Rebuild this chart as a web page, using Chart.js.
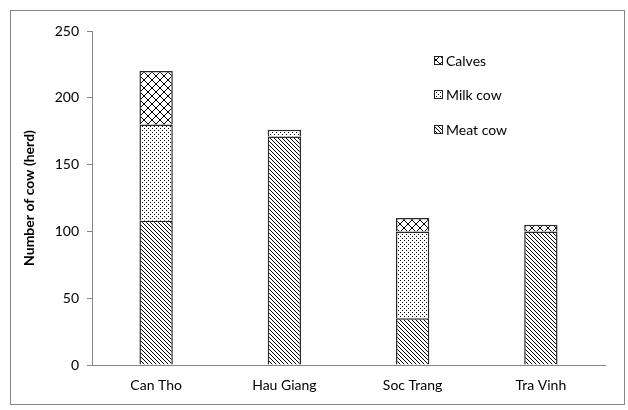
<!DOCTYPE html>
<html>
<head>
<meta charset="utf-8">
<script src="https://cdn.jsdelivr.net/npm/chart.js@4.4.0/dist/chart.umd.min.js"></script>
<style>
  html, body { margin: 0; padding: 0; background: #fff; }
  #wrap { width: 628px; height: 410px; }
</style>
</head>
<body>
<div id="wrap"><canvas id="grafico" width="628" height="410"></canvas></div>
<script>
// dados
const categorias = ["Can Tho", "Hau Giang", "Soc Trang", "Tra Vinh"];
const meatCow = [108, 171, 35, 100];
const milkCow = [72, 5, 65, 0];
const calves = [40, 0, 10, 5];
const yTicks = [0, 50, 100, 150, 200, 250];

// padrões de preenchimento (hachuras)
function criarPadrao(tam, desenha) {
  const c = document.createElement("canvas");
  c.width = tam;
  c.height = tam;
  const g = c.getContext("2d");
  g.fillStyle = "#fff";
  g.fillRect(0, 0, tam, tam);
  g.fillStyle = "#000";
  desenha(g, tam);
  return g.createPattern(c, "repeat");
}

const ctx = document.getElementById("grafico").getContext("2d");

const padraoMeat = criarPadrao(4, (g, t) => {
  for (let i = 0; i < t; i++) g.fillRect(i, i, 1, 1);
});
const padraoMilk = criarPadrao(4, (g) => {
  g.fillRect(0, 0, 1, 1);
  g.fillRect(2, 2, 1, 1);
});
const padraoCalves = criarPadrao(8, (g, t) => {
  for (let i = 0; i < t; i++) {
    g.fillRect(i, i, 1, 1);
    g.fillRect(t - 1 - i, i, 1, 1);
  }
});

const corEixo = "#868686";
const fonte = "Lato";

// borda externa + legenda dentro da área
const extras = {
  id: "extras",
  afterDraw(chart) {
    const c = chart.ctx;
    c.save();
    c.strokeStyle = corEixo;
    c.lineWidth = 1;
    c.strokeRect(10.5, 10.5, 614, 394);

    const itens = [
      ["Calves", padraoCalves, 61],
      ["Milk cow", padraoMilk, 95],
      ["Meat cow", padraoMeat, 130],
    ];
    c.font = "14px " + fonte;
    c.textBaseline = "middle";
    itens.forEach(([txt, pad, y]) => {
      c.fillStyle = pad;
      c.fillRect(434, y - 5, 9, 9);
      c.strokeStyle = "#222";
      c.strokeRect(434.5, y - 4.5, 8, 8);
      c.fillStyle = "#000";
      c.fillText(txt, 446, y);
    });
    c.restore();
  },
};

new Chart(ctx, {
  type: "bar",
  data: {
    labels: categorias,
    datasets: [
      { label: "Meat cow", data: meatCow, backgroundColor: padraoMeat },
      { label: "Milk cow", data: milkCow, backgroundColor: padraoMilk },
      { label: "Calves", data: calves, backgroundColor: padraoCalves },
    ].map((d) => ({
      ...d,
      borderColor: "#2a2a2a",
      borderWidth: 1.5,
      barPercentage: 0.26,
      categoryPercentage: 1,
    })),
  },
  options: {
    responsive: false,
    animation: false,
    layout: { padding: { left: 12, top: 31, right: 23, bottom: 0 } },
    plugins: {
      legend: { display: false },
      tooltip: { enabled: false },
    },
    scales: {
      x: {
        stacked: true,
        grid: { drawOnChartArea: false, drawTicks: false },
        border: { color: corEixo },
        ticks: { color: "#000", padding: 12, font: { family: fonte, size: 14 } },
        afterFit: (s) => { s.height = 45; },
      },
      y: {
        stacked: true,
        min: 0,
        max: 250,
        afterBuildTicks: (s) => { s.ticks = yTicks.map((v) => ({ value: v })); },
        grid: { drawOnChartArea: false, drawTicks: true, tickLength: 5, color: corEixo },
        border: { color: corEixo },
        ticks: { color: "#000", padding: 8, font: { family: fonte, size: 14 } },
        title: {
          display: true,
          text: "Number of cow (herd)",
          color: "#000",
          font: { family: fonte, size: 14, weight: "bold" },
          padding: { top: 9, bottom: 0 },
        },
        afterFit: (s) => { s.width = 80; },
      },
    },
  },
  plugins: [extras],
});
</script>
</body>
</html>
